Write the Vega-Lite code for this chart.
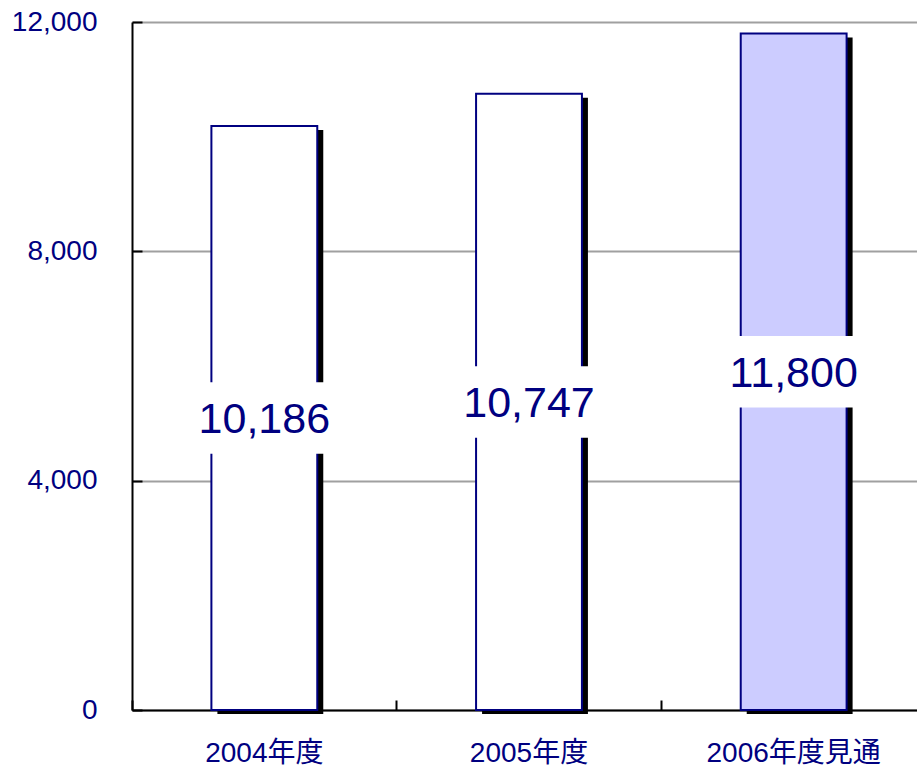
{
  "$schema": "https://vega.github.io/schema/vega-lite/v6.json",
  "width": 785,
  "height": 688,
  "autosize": "none",
  "padding": {"left": 132, "top": 22, "right": 0, "bottom": 56},
  "background": "white",
  "config": {"view": {"stroke": null}, "font": "Liberation Sans"},
  "data": {
    "values": [
      {"year": "2004年度", "value": 10186, "type": "実績"},
      {"year": "2005年度", "value": 10747, "type": "実績"},
      {"year": "2006年度見通", "value": 11800, "type": "見通"}
    ]
  },
  "encoding": {
    "x": {
      "field": "year",
      "type": "nominal",
      "sort": null,
      "scale": {"range": [0, 794], "paddingInner": 0, "paddingOuter": 0},
      "axis": {
        "title": null,
        "labelAngle": 0,
        "bandPosition": 0,
        "domainColor": "black",
        "domainWidth": 2,
        "tickColor": "black",
        "tickWidth": 2,
        "tickSize": -10,
        "labelPadding": 39,
        "labelFont": "Liberation Sans, Noto Sans CJK JP",
        "labelFontSize": 28,
        "labelColor": "#000080",
        "grid": false
      }
    }
  },
  "layer": [
    {
      "mark": {"type": "bar", "width": {"band": 0.4}, "color": "black", "xOffset": 6, "yOffset": 4},
      "encoding": {
        "y": {"field": "value", "type": "quantitative", "scale": {"domain": [0, 12000], "nice": false}, "axis": null}
      }
    },
    {
      "mark": {"type": "bar", "width": {"band": 0.4}, "stroke": "#000080", "strokeWidth": 2},
      "encoding": {
        "y": {
          "field": "value",
          "type": "quantitative",
          "scale": {"domain": [0, 12000], "nice": false},
          "axis": {
            "title": null,
            "values": [0, 4000, 8000, 12000],
            "format": ",.0f",
            "domainColor": "black",
            "domainWidth": 2,
            "tickColor": "black",
            "tickWidth": 2,
            "tickSize": -10,
            "labelPadding": 45,
            "labelFont": "Liberation Sans",
            "labelFontSize": 28,
            "labelColor": "#000080",
            "grid": true,
            "gridColor": "#a0a0a0",
            "gridWidth": 2
          }
        },
        "fill": {
          "field": "type",
          "type": "nominal",
          "scale": {"domain": ["実績", "見通"], "range": ["white", "#CCCCFF"]},
          "legend": null
        }
      }
    },
    {
      "mark": {"type": "point", "shape": "M-1,-0.53H1V0.53H-1Z", "size": 18225, "filled": true, "fill": "white", "opacity": 1, "strokeWidth": 0},
      "encoding": {
        "y": {"field": "value", "type": "quantitative", "scale": {"domain": [0, 24000], "nice": false}, "axis": null}
      }
    },
    {
      "mark": {"type": "text", "fontSize": 43, "color": "#000080", "baseline": "middle", "align": "center", "font": "Liberation Sans", "dy": 2},
      "encoding": {
        "y": {"field": "value", "type": "quantitative", "scale": {"domain": [0, 24000], "nice": false}, "axis": null},
        "text": {"field": "value", "type": "quantitative", "format": ","}
      }
    }
  ],
  "resolve": {"scale": {"y": "independent"}}
}
